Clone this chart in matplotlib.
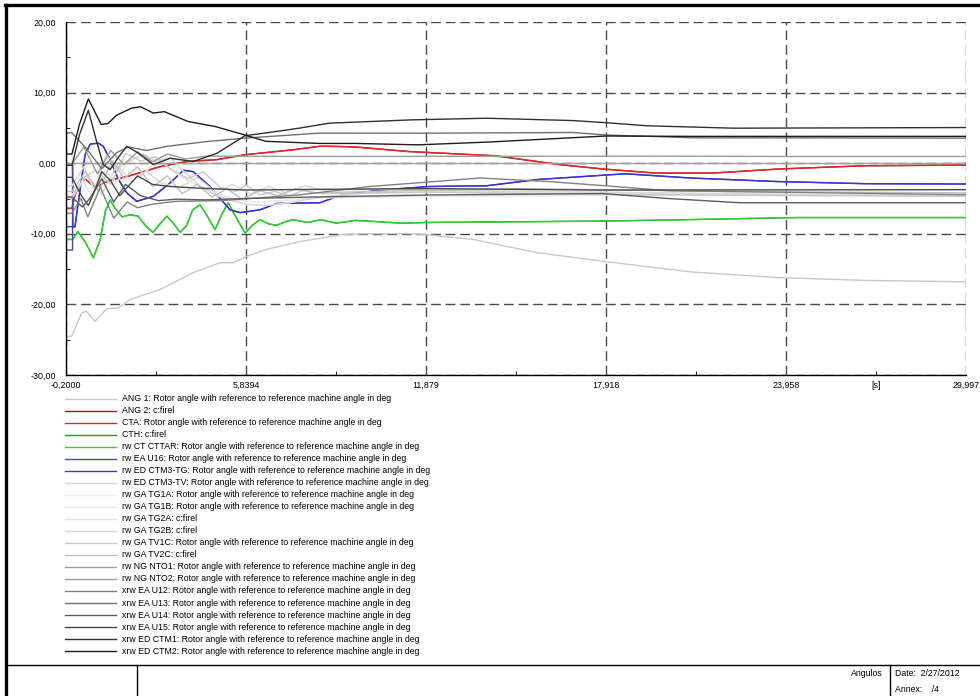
import matplotlib
matplotlib.use("Agg")
import matplotlib.pyplot as plt
from matplotlib.lines import Line2D

plt.rcParams['font.family'] = ['Liberation Sans', 'DejaVu Sans']

W, H = 980, 696

# ---- data: (time [s], angle [deg]) knots ----
ang1 = [(-0.2, -24.6), (-0.01, -24.5), (0.33, -21.2), (0.49, -21.0), (0.77, -22.4), (1.17, -20.6),
        (1.56, -20.5), (1.95, -19.3), (2.95, -17.9), (4.07, -15.5), (4.97, -14.1), (5.4, -14.1),
        (5.86, -13.2), (6.53, -12.2), (7.65, -11.1), (9.1, -10.1), (9.67, -10.0), (11.27, -9.97),
        (11.85, -10.1), (13.46, -10.8), (15.65, -12.7), (17.84, -13.9), (20.76, -15.4),
        (23.68, -16.2), (26.6, -16.6), (29.997, -16.8)]

red_angle = [(-0.2, -6.4), (0.0, -6.4), (0.1, -4.5), (0.27, -3.0), (0.44, -2.2), (0.6, -2.8),
             (0.8, -3.5), (1.05, -2.8), (1.3, -2.4), (1.84, -1.9), (2.95, -0.5), (3.85, 0.24),
             (4.86, 0.5), (5.81, 1.2), (7.42, 1.9), (8.32, 2.4), (8.93, 2.37), (9.5, 2.3),
             (11.27, 1.66), (14.2, 1.05), (16.4, -0.22), (17.84, -0.83), (19.59, -1.4),
             (21.5, -1.4), (23.68, -0.83), (26.6, -0.36), (29.997, -0.27)]

green_angle = [(-0.2, -10.8), (0.02, -10.8), (0.2, -9.7), (0.45, -11.2), (0.72, -13.4), (0.95, -10.8),
               (1.12, -6.8), (1.28, -5.2), (1.45, -6.4), (1.68, -7.6), (1.95, -7.3), (2.22, -7.5),
               (2.48, -8.9), (2.72, -9.8), (2.95, -8.6), (3.18, -7.5), (3.4, -8.5), (3.63, -9.8),
               (3.85, -8.8), (4.05, -6.6), (4.3, -5.9), (4.5, -7.2), (4.8, -9.4), (5.0, -7.5),
               (5.24, -5.6), (5.5, -7.6), (5.81, -9.9), (6.05, -8.8), (6.31, -8.0), (6.6, -8.6),
               (6.87, -8.8), (7.15, -8.3), (7.42, -8.0), (7.92, -8.4), (8.35, -8.0), (8.86, -8.5),
               (9.5, -8.1), (11.1, -8.5), (11.85, -8.4), (17.8, -8.2), (20.6, -8.0), (24.3, -7.7),
               (29.997, -7.7)]

blue_tail = [(0.10, -9.0), (0.27, -3.8), (0.44, 1.2), (0.61, 2.7), (0.88, 2.84), (1.05, 2.4),
             (1.28, 0.5), (1.56, -2.3), (1.84, -4.2), (2.17, -5.4), (2.73, -4.7), (3.29, -2.8),
             (3.74, -1.0), (4.07, -1.2), (4.63, -3.3), (5.3, -6.6), (5.64, -7.0), (6.31, -6.6),
             (6.87, -5.7), (8.32, -5.6), (9.08, -4.46), (10.5, -3.75), (12.0, -3.3), (13.9, -3.2),
             (15.65, -2.3), (17.84, -1.7), (18.57, -1.5), (20.76, -2.1), (23.68, -2.6),
             (26.6, -2.9), (29.997, -2.95)]
blue_u16 = [(-0.2, -12.3), (0.02, -12.3), (0.02, -0.3), (0.03, -9.0)] + blue_tail
blue_ctm3tg = [(-0.2, -9.0), (0.02, -9.0)] + blue_tail

ctm3_tv = [(-0.2, -5.0), (0.0, -5.0), (0.5, -1.8), (1.0, -4.4), (1.5, -0.3), (2.0, -2.6), (2.5, -1.2),
           (3.0, -2.8), (3.6, -3.5), (4.2, -2.0), (4.8, -4.0), (5.4, -3.0), (6.0, -4.4), (6.6, -3.3),
           (7.2, -4.2), (7.8, -3.2), (8.4, -3.8), (10, -3.7), (16, -4.0), (29.997, -4.7)]
tg1 = [(-0.2, -4.5), (0.0, -4.5), (0.35, -2.5), (0.7, -4.8), (1.1, -1.0), (1.5, -2.8), (1.9, 0.5),
       (2.4, -1.5), (2.9, 0.6), (3.4, -1.2), (3.9, -2.5), (4.4, -3.5), (5.0, -4.5), (5.5, -5.2),
       (6.2, -5.5), (7.0, -5.3), (8.5, -4.9), (12, -4.7), (20, -4.5), (29.997, -4.5)]
tg2 = [(-0.2, -3.2), (0.0, -3.2), (0.4, -0.5), (0.75, -3.8), (1.15, 1.2), (1.5, -0.8), (1.9, 0.2),
       (2.4, 1.3), (2.8, 0.3), (3.3, 0.8), (3.7, -1.0), (4.3, -3.2), (4.8, -4.5), (5.3, -5.2),
       (5.84, -5.8), (6.5, -6.0), (7.3, -5.6), (8.3, -4.8), (10, -4.2), (15, -4.0), (22, -4.4),
       (29.997, -4.6)]
tv1c = [(-0.2, -4.8), (0.0, -4.8), (0.4, -2.0), (0.8, -1.0), (1.3, -3.0), (1.8, 1.4), (2.3, 0.3),
        (2.8, 0.9), (3.3, -0.8), (3.9, -2.2), (4.4, -1.2), (5.0, -3.5), (5.5, -4.0), (5.84, -3.1),
        (6.3, -4.5), (6.8, -4.0), (7.3, -4.6), (7.8, -3.8), (8.3, -4.3), (12, -4.1), (20, -4.5),
        (29.997, -4.7)]
tv2c = [(-0.2, -4.0), (0.0, -4.0), (0.45, -1.2), (0.9, -4.0), (1.35, 0.4), (1.75, -2.2), (2.2, -0.5),
        (2.7, -3.3), (3.2, -1.8), (3.7, -4.3), (4.2, -3.0), (4.7, -4.8), (5.2, -3.6), (5.7, -5.1),
        (6.3, -3.9), (6.9, -4.6), (7.5, -3.6), (8.1, -4.2), (10, -4.0), (15, -3.6), (22, -4.0),
        (29.997, -4.2)]
nto1 = [(-0.2, 0.0), (29.997, 0.0)]
nto2 = [(-0.2, -0.1), (0.0, -0.1), (0.4, 2.3), (0.85, -1.5), (1.3, 1.8), (1.75, -0.2), (2.2, 1.6),
        (2.7, 0.2), (3.2, 1.3), (3.8, 0.6), (4.5, 1.0), (8, 0.95), (20, 1.0), (24, 0.95), (29.997, 0.95)]
u12 = [(-0.2, -7.1), (0.0, -7.1), (0.3, -5.0), (0.53, -7.6), (0.95, -3.4), (1.4, -7.8), (1.85, -5.5),
       (2.2, -6.3), (2.7, -5.8), (3.5, -5.4), (5.0, -5.3), (7.6, -4.5), (10, -3.3), (13.7, -2.1),
       (16, -2.6), (17.9, -3.2), (20, -3.9), (29.997, -4.46)]
u13 = [(-0.2, 4.3), (0.0, 4.3), (0.5, 2.0), (1.0, -0.8), (1.5, 1.5), (1.9, 2.3), (2.5, 1.8), (3.2, 2.4),
       (4.6, 3.1), (5.8, 3.55), (8.3, 4.26), (12, 4.25), (16.8, 4.35), (17.9, 4.0), (20.8, 3.6),
       (29.997, 3.55)]
u14 = [(-0.2, -4.8), (0.0, -4.8), (0.35, -6.2), (0.6, -5.0), (1.0, -2.2), (1.4, -5.5), (1.8, -3.0),
       (2.3, -4.6), (2.9, -5.3), (3.5, -5.1), (4.5, -5.2), (5.8, -5.0), (8, -4.8), (12, -4.5),
       (17.8, -4.3), (20, -5.0), (22.4, -5.6), (29.997, -5.6)]
u15 = [(-0.2, -2.0), (0.0, -2.0), (0.3, -4.5), (0.55, -6.0), (0.8, -3.5), (1.0, -1.2), (1.3, -2.5),
       (1.6, -4.6), (1.9, -3.2), (2.2, -1.8), (2.7, -3.0), (3.3, -3.3), (4.1, -3.5), (5.8, -3.8),
       (8.3, -3.7), (12, -3.6), (17.8, -3.8), (29.997, -3.75)]
ctm1 = [(-0.2, -0.3), (0.0, -0.3), (0.25, 4.0), (0.55, 7.5), (0.8, 3.5), (1.05, -0.2), (1.28, -0.9),
        (1.55, 0.8), (1.84, 2.4), (2.2, 1.5), (2.73, -0.2), (3.29, 0.7), (4.07, 0.24), (4.86, 1.4),
        (5.81, 3.9), (6.53, 4.3), (7.62, 4.96), (8.64, 5.67), (11.4, 6.14), (13.9, 6.37),
        (16.8, 6.04), (17.84, 5.76), (19.3, 5.3), (22.2, 4.96), (29.997, 5.05)]
ctm2 = [(-0.2, 1.3), (0.0, 1.3), (0.25, 5.5), (0.55, 9.1), (0.8, 7.0), (0.98, 5.5), (1.2, 5.6),
        (1.5, 6.8), (2.0, 7.8), (2.3, 8.0), (2.73, 7.1), (3.1, 7.3), (3.9, 5.9), (4.8, 5.2), (5.8, 4.0),
        (6.5, 3.1), (8.3, 2.8), (9.5, 2.8), (11.6, 2.6), (14.0, 3.0), (17.9, 3.85), (20.8, 3.8),
        (29.997, 3.8)]

rotor = ": Rotor angle with reference to reference machine angle in deg"
labels = ["ANG 1" + rotor, "ANG 2: c:firel", "CTA" + rotor, "CTH: c:firel",
          "rw CT CTTAR" + rotor, "rw EA U16" + rotor, "rw ED CTM3-TG" + rotor,
          "rw ED CTM3-TV" + rotor, "rw GA TG1A" + rotor, "rw GA TG1B" + rotor,
          "rw GA TG2A: c:firel", "rw GA TG2B: c:firel", "rw GA TV1C" + rotor, "rw GA TV2C: c:firel",
          "rw NG NTO1" + rotor, "rw NG NTO2" + rotor, "xrw EA U12" + rotor, "xrw EA U13" + rotor,
          "xrw EA U14" + rotor, "xrw EA U15" + rotor, "xrw ED CTM1" + rotor, "xrw ED CTM2" + rotor]
series = [ang1, red_angle, red_angle, green_angle, green_angle, blue_u16, blue_ctm3tg,
          ctm3_tv, tg1, tg1, tg2, tg2, tv1c, tv2c, nto1, nto2, u12, u13, u14, u15, ctm1, ctm2]
colors = ["#c8c8c8", "#b01818", "#e02828", "#209a20", "#30d030", "#4848a8", "#3434d8",
          "#d8d8d8", "#eeeeee", "#e8e8e8", "#e2e2e2", "#d8d8d8", "#c8c8c8", "#c0c0c0",
          "#a0a0a0", "#9a9a9a", "#808080", "#707070", "#5c5c5c", "#484848", "#303030", "#1c1c1c"]

x_ticks = [-0.2, 5.8394, 11.879, 17.918, 23.958, 29.997]
x_tick_labels = ["-0,2000", "5,8394", "11,879", "17,918", "23,958", "29,997"]
y_ticks = [-30, -20, -10, 0, 10, 20]
y_tick_labels = ["-30,00", "-20,00", "-10,00", "0,00", "10,00", "20,00"]

fig = plt.figure(figsize=(W / 100, H / 100), dpi=100)
ax = fig.add_axes([66 / W, 1 - 375 / H, 900 / W, 353 / H])

for data, c in zip(series, colors):
    t = [p[0] for p in data]
    v = [p[1] for p in data]
    ax.plot(t, v, color=c, lw=1.0, solid_joinstyle='round')

ax.set_xlim(-0.2, 29.997)
ax.set_ylim(-30, 20)
ax.set_xticks(x_ticks)
ax.set_xticklabels(x_tick_labels)
ax.set_yticks(y_ticks)
ax.set_yticklabels(y_tick_labels)
x_minor = [(a + b) / 2 for a, b in zip(x_ticks[:-1], x_ticks[1:])]
ax.set_xticks(x_minor, minor=True)
ax.set_xticklabels(["", "", "", "", "[s]"], minor=True)
ax.set_yticks([-25, -15, -5, 5, 15], minor=True)
ax.tick_params(which='both', direction='in', labelsize=6.4, colors='black')
ax.tick_params(which='major', length=0, pad=4)
ax.tick_params(which='minor', length=3, pad=4)
ax.tick_params(axis='y', which='major', pad=7)
ax.grid(True, which='major', color='#4a4a4a', linestyle=(0, (7, 3.5)), lw=1.0)
for s in ['top', 'right']:
    ax.spines[s].set_visible(False)
for s in ['left', 'bottom']:
    ax.spines[s].set_linewidth(1.0)

# legend drawn row by row below the plot
row0, step = 398.5, 12.03
for i, (lab, c) in enumerate(zip(labels, colors)):
    y = 1 - (row0 + i * step) / H
    fig.add_artist(Line2D([65 / W, 116 / W], [y, y], color=c, lw=1.0, transform=fig.transFigure))
    fig.text(122 / W, y, lab, fontsize=6.3, va='center', ha='left')

# page frame and title block
frame = dict(color='black', transform=fig.transFigure)
fig.add_artist(Line2D([5 / W, 1], [1 - 5 / H, 1 - 5 / H], lw=2.4, **frame))
fig.add_artist(Line2D([5.5 / W, 5.5 / W], [0, 1 - 5 / H], lw=2.4, **frame))
fig.add_artist(Line2D([7 / W, 1], [1 - 665 / H, 1 - 665 / H], lw=1.0, **frame))
fig.add_artist(Line2D([137 / W, 137 / W], [0, 1 - 665 / H], lw=1.0, **frame))
fig.add_artist(Line2D([890 / W, 890 / W], [0, 1 - 665 / H], lw=1.0, **frame))
fig.text(883 / W, 1 - 674 / H, "Angulos", fontsize=6.3, ha='right', va='center')
fig.text(895 / W, 1 - 674 / H, "Date:  2/27/2012", fontsize=6.3, ha='left', va='center')
fig.text(895 / W, 1 - 689 / H, "Annex:    /4", fontsize=6.3, ha='left', va='center')

fig.savefig("out.png", dpi=100)
